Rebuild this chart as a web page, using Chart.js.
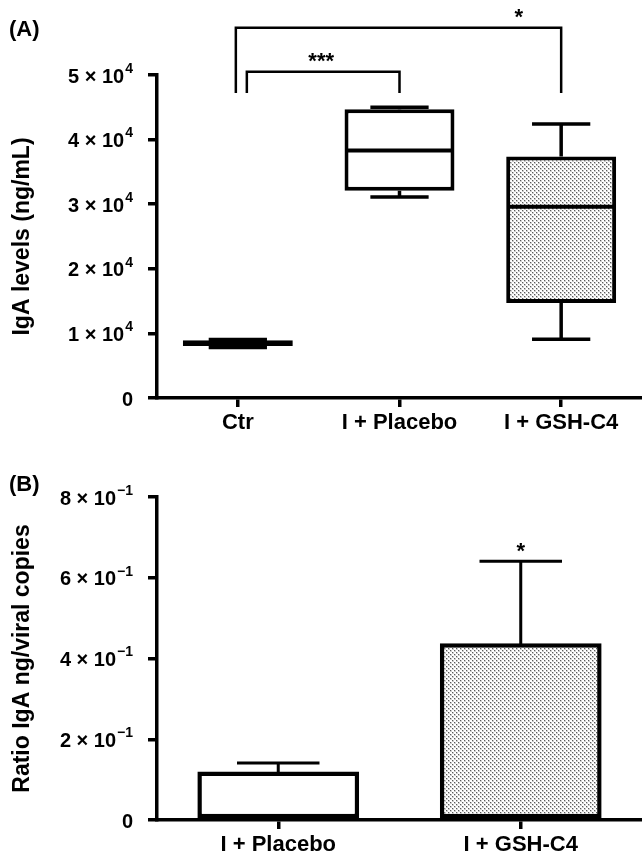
<!DOCTYPE html>
<html>
<head>
<meta charset="utf-8">
<script src="https://cdn.jsdelivr.net/npm/chart.js@4.4.0/dist/chart.umd.min.js"></script>
<style>
  body { margin: 0; background: #fff; width: 642px; height: 858px; position: relative; overflow: hidden;
         font-family: "Liberation Sans", Arial, sans-serif; }
  .panel { position: absolute; left: 0; width: 642px; }
  #wrapA { top: 0; height: 440px; }
  #wrapB { top: 440px; height: 418px; }
  .tag { position: absolute; font-weight: bold; font-size: 22px; line-height: 22px; color: #000; }
</style>
</head>
<body>
<div class="panel" id="wrapA"><canvas id="chartA"></canvas></div>
<div class="panel" id="wrapB"><canvas id="chartB"></canvas></div>
<div class="tag" style="left:9px;top:18px">(A)</div>
<div class="tag" style="left:9px;top:473px">(B)</div>
<script>
// ---- panel A : box plots ----
const categoriesA = ['Ctr', 'I + Placebo', 'I + GSH-C4'];
const minA    = [7800, 31100, 9100];
const q1A     = [8050, 32100, 14700];
const medianA = [8500, 38300, 29600];
const q3A     = [8950, 44700, 37400];
const maxA    = [9050, 45000, 42400];
// tick labels: mantissa part and exponent part
const yTickBaseA = ['0', '1 × 10', '2 × 10', '3 × 10', '4 × 10', '5 × 10'];
const yTickExpA  = ['', '4', '4', '4', '4', '4'];

// significance brackets (group indexes and levels in data units)
const bracketFrom  = [0, 0];
const bracketTo    = [1, 2];
const bracketTop   = [50500, 57300];
const bracketFoot  = [47200, 47200];
const bracketLabel = ['***', '*'];

// ---- panel B : bars with error ----
const categoriesB = ['I + Placebo', 'I + GSH-C4'];
const meanB   = [0.12, 0.438];
const errB    = [0.021, 0.203];
const starB   = ['', '*'];
const yTickBaseB = ['0', '2 × 10', '4 × 10', '6 × 10', '8 × 10'];
const yTickExpB  = ['', '−1', '−1', '−1', '−1'];

const FONT = '"Liberation Sans", Arial, sans-serif';
Chart.defaults.font.family = FONT;
Chart.defaults.font.weight = 'bold';
Chart.defaults.color = '#000';

// light dotted fill like the original
function dotPattern() {
  const c = document.createElement('canvas');
  c.width = 4; c.height = 4;
  const g = c.getContext('2d');
  const img = g.createImageData(4, 4);
  for (let i = 0; i < 16; i++) {
    img.data[i * 4] = img.data[i * 4 + 1] = img.data[i * 4 + 2] = 255;
    img.data[i * 4 + 3] = 255;
  }
  function px(x, y, v) { const k = (y * 4 + x) * 4; img.data[k] = img.data[k + 1] = img.data[k + 2] = v; }
  [[0, 0], [2, 2]].forEach(function (p) {
    px(p[0], p[1], 90);
    px(p[0] + 1, p[1], 200);
    px(p[0], p[1] + 1, 200);
    px(p[0] + 1, p[1] + 1, 210);
  });
  g.putImageData(img, 0, 0);
  return g.createPattern(c, 'repeat');
}
const dots = dotPattern();

const starFont = 'bold 22px ' + FONT;

function yAxis(max, step, title) {
  return {
    min: 0, max: max,
    afterFit: function (s) { s.width = 157; },
    ticks: { stepSize: step, display: false },
    grid: { display: true, drawOnChartArea: false, drawTicks: true, tickLength: 9, color: '#000', lineWidth: 3.5 },
    border: { display: true, color: '#000', width: 3.5 },
    title: { display: true, text: title, font: { size: 23 }, padding: { top: 9, bottom: 0 } }
  };
}

function xAxis(h) {
  return {
    afterFit: function (s) { s.height = h; },
    ticks: { padding: 3, font: { size: 22 }, maxRotation: 0, autoSkip: false },
    grid: { display: true, offset: false, drawOnChartArea: false, drawTicks: true, tickLength: 9, color: '#000', lineWidth: 3.5 },
    border: { display: true, color: '#000', width: 3.5 }
  };
}

// y tick labels with a real raised exponent ("5 × 10" + small "4")
function powerLabels(base, exp) {
  return {
    id: 'powerLabels',
    afterDraw: function (chart) {
      const ctx = chart.ctx, y = chart.scales.y;
      const right = y.right - 24;
      ctx.save();
      ctx.fillStyle = '#000';
      ctx.textAlign = 'right';
      ctx.textBaseline = 'middle';
      y.ticks.forEach(function (t, i) {
        const py = y.getPixelForTick(i) + 2;
        let xr = right;
        if (exp[i]) {
          ctx.font = 'bold 14px ' + FONT;
          ctx.fillText(exp[i], xr, py - 8);
          xr -= ctx.measureText(exp[i]).width + 1;
        }
        ctx.font = 'bold 20px ' + FONT;
        ctx.fillText(base[i], xr, py);
      });
      ctx.restore();
    }
  };
}

// whiskers, caps and median lines over the floating bars
const boxParts = {
  id: 'boxParts',
  afterDatasetsDraw: function (chart) {
    const ctx = chart.ctx, y = chart.scales.y;
    const meta = chart.getDatasetMeta(0);
    ctx.save();
    ctx.strokeStyle = '#000';
    meta.data.forEach(function (bar, i) {
      const x = bar.x, w = bar.width;
      const capW = w * 0.53;
      const yMin = y.getPixelForValue(minA[i]), yMax = y.getPixelForValue(maxA[i]);
      const yQ1 = y.getPixelForValue(q1A[i]), yQ3 = y.getPixelForValue(q3A[i]);
      const yMed = y.getPixelForValue(medianA[i]);
      ctx.lineWidth = 3.5;
      ctx.beginPath();
      ctx.moveTo(x, yQ3); ctx.lineTo(x, yMax);
      ctx.moveTo(x, yQ1); ctx.lineTo(x, yMin);
      ctx.moveTo(x - capW / 2, yMax); ctx.lineTo(x + capW / 2, yMax);
      ctx.moveTo(x - capW / 2, yMin); ctx.lineTo(x + capW / 2, yMin);
      ctx.stroke();
      ctx.lineWidth = 4;
      ctx.beginPath();
      ctx.moveTo(x - w / 2 + 2, yMed); ctx.lineTo(x + w / 2 - 2, yMed);
      ctx.stroke();
    });
    ctx.restore();
  }
};

const brackets = {
  id: 'brackets',
  afterDraw: function (chart) {
    const ctx = chart.ctx, x = chart.scales.x, y = chart.scales.y;
    ctx.save();
    ctx.strokeStyle = '#000';
    ctx.fillStyle = '#000';
    ctx.lineWidth = 2.5;
    ctx.font = starFont;
    ctx.textAlign = 'center';
    ctx.textBaseline = 'alphabetic';
    for (let i = 0; i < bracketLabel.length; i++) {
      // the shorter bracket starts a little right so the two legs don't touch
      const nudge = (bracketTo[i] - bracketFrom[i] === 1) ? 9 : -2;
      const x1 = x.getPixelForValue(bracketFrom[i]) + nudge;
      const x2 = x.getPixelForValue(bracketTo[i]);
      const top = y.getPixelForValue(bracketTop[i]);
      const foot = y.getPixelForValue(bracketFoot[i]);
      ctx.beginPath();
      ctx.moveTo(x1, foot); ctx.lineTo(x1, top); ctx.lineTo(x2, top); ctx.lineTo(x2, foot);
      ctx.stroke();
      const lx = bracketLabel[i] === '*' ? x1 + (x2 - x1) * 0.87 : (x1 + x2) / 2 - 2;
      ctx.fillText(bracketLabel[i], lx, top - 4);
    }
    ctx.restore();
  }
};

const errorBars = {
  id: 'errorBars',
  afterDatasetsDraw: function (chart) {
    const ctx = chart.ctx, y = chart.scales.y;
    const meta = chart.getDatasetMeta(0);
    ctx.save();
    ctx.strokeStyle = '#000';
    ctx.fillStyle = '#000';
    ctx.lineWidth = 3;
    ctx.font = starFont;
    ctx.textAlign = 'center';
    meta.data.forEach(function (bar, i) {
      const capW = bar.width * 0.51;
      const top = y.getPixelForValue(meanB[i] + errB[i]);
      ctx.beginPath();
      ctx.moveTo(bar.x, bar.y + 2); ctx.lineTo(bar.x, top);
      ctx.moveTo(bar.x - capW / 2, top); ctx.lineTo(bar.x + capW / 2, top);
      ctx.stroke();
      if (starB[i]) ctx.fillText(starB[i], bar.x, top - 3);
    });
    ctx.restore();
  }
};

new Chart(document.getElementById('chartA'), {
  type: 'bar',
  data: {
    labels: categoriesA,
    datasets: [{
      data: q1A.map(function (q, i) { return [q, q3A[i]]; }),
      backgroundColor: ['#fff', '#fff', dots],
      borderColor: '#000',
      borderWidth: 4,
      borderSkipped: false,
      barPercentage: 0.68,
      categoryPercentage: 1
    }]
  },
  options: {
    responsive: true, maintainAspectRatio: false, animation: false,
    layout: { padding: { top: 75, left: 0, right: 0, bottom: 0 } },
    plugins: { legend: { display: false }, tooltip: { enabled: false } },
    scales: {
      x: xAxis(42),
      y: yAxis(50000, 10000, 'IgA levels (ng/mL)')
    }
  },
  plugins: [boxParts, brackets, powerLabels(yTickBaseA, yTickExpA)]
});

new Chart(document.getElementById('chartB'), {
  type: 'bar',
  data: {
    labels: categoriesB,
    datasets: [{
      data: meanB,
      backgroundColor: ['#fff', dots],
      borderColor: '#000',
      borderWidth: 4.5,
      borderSkipped: false,
      barPercentage: 0.667,
      categoryPercentage: 1
    }]
  },
  options: {
    responsive: true, maintainAspectRatio: false, animation: false,
    layout: { padding: { top: 57, left: 0, right: 0, bottom: 0 } },
    plugins: { legend: { display: false }, tooltip: { enabled: false } },
    scales: {
      x: xAxis(38),
      y: yAxis(0.8, 0.2, 'Ratio IgA ng/viral copies')
    }
  },
  plugins: [errorBars, powerLabels(yTickBaseB, yTickExpB)]
});
</script>
</body>
</html>
